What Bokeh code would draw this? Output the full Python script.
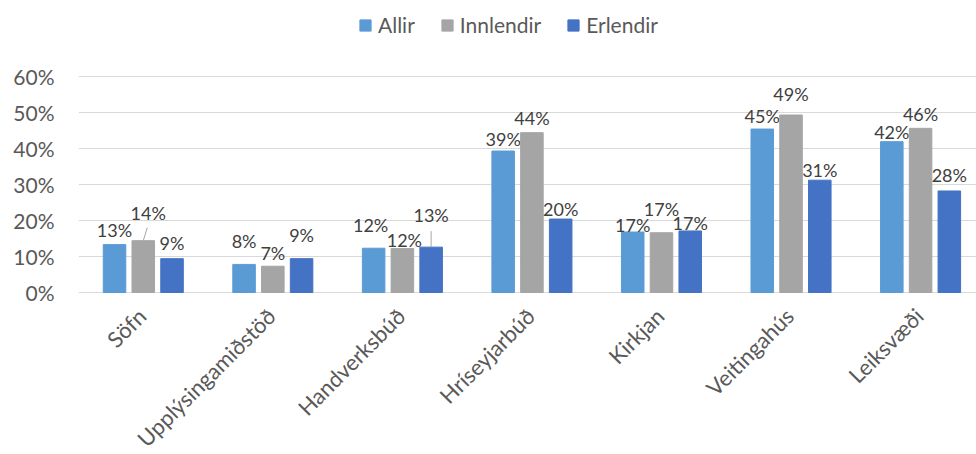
import math
from bokeh.plotting import figure
from bokeh.models import (ColumnDataSource, Range1d, FixedTicker, NumeralTickFormatter,
                          Legend, LegendItem)
from bokeh.core.properties import value
from bokeh.embed import file_html
from bokeh.resources import INLINE

# ---- data ----
categories = ["Söfn", "Upplýsingamiðstöð", "Handverksbúð", "Hríseyjarbúð",
              "Kirkjan", "Veitingahús", "Leiksvæði"]
allir = [0.133, 0.078, 0.123, 0.393, 0.168, 0.454, 0.419]
innlendir = [0.144, 0.073, 0.122, 0.444, 0.166, 0.493, 0.456]
erlendir = [0.094, 0.094, 0.126, 0.204, 0.171, 0.312, 0.282]
series_names = ["Allir", "Innlendir", "Erlendir"]
y_ticks = [0, 0.1, 0.2, 0.3, 0.4, 0.5, 0.6]

# ---- styles ----
colors = ["#5B9BD5", "#A5A5A5", "#4472C4"]
offsets = [-0.222, 0.0, 0.222]
bar_w = 0.174
FONT = "Lato"
BASE_LIFT = 6
# label lift above bar top, px (auto-placement of the original)
lifts = [
    [9, 17, 17, 6, 1, 7, 4],
    [22, 7, 3, 9, 18, 15, 8],
    [10, 18, 26, 4, 2, 4, 10],
]
label_dx = [
    [0, 0, -3, 0, 0, 0, 0],
    [5, 0, 2, 0, 0, 0, 0],
    [0, 0, 0, 0, 0, 0, 0],
]
# leader lines (series index, category index, dx px, length px)
leaders = [(1, 0, 4, 13), (2, 2, 0, 16)]
W, H = 976, 454
LEFT = 78
PLOT_TOP_PX = 76          # where 60% sits, from canvas top
ZERO_PX = 292             # where 0% sits, from canvas top
PX_X = 129.55             # px per category unit
PX_Y = (ZERO_PX - PLOT_TOP_PX) / 0.6  # px per y unit

p = figure(width=W, height=H, output_backend="svg", toolbar_location=None,
           x_range=Range1d(-0.5, -0.5 + (W - LEFT) / PX_X),
           y_range=Range1d(-(H - ZERO_PX) / PX_Y, 0.6 + PLOT_TOP_PX / PX_Y),
           x_axis_location=None,
           min_border_left=LEFT, min_border_right=0, min_border_top=0,
           min_border_bottom=0)
p.outline_line_color = None
p.background_fill_color = "white"
p.border_fill_color = "white"

for g in p.xgrid:
    g.grid_line_color = None
p.ygrid.grid_line_color = "#D9D9D9"
p.ygrid.grid_line_width = 1
p.ygrid.ticker = FixedTicker(ticks=y_ticks)

renderers = []
for si, (name, vals) in enumerate(zip(series_names, [allir, innlendir, erlendir])):
    xs = [i + offsets[si] for i in range(len(categories))]
    src = ColumnDataSource(dict(
        x=xs, top=vals,
        lx=[x + label_dx[si][i] / PX_X for i, x in enumerate(xs)],
        ly=[v + (lifts[si][i] + BASE_LIFT) / PX_Y for i, v in enumerate(vals)],
        label=[f"{v:.0%}" for v in vals]))
    r = p.vbar(x="x", top="top", bottom=0, width=bar_w, source=src, color=colors[si],
               line_color=colors[si])
    renderers.append(r)
    p.text(x="lx", y="ly", text="label", source=src, text_align="center",
           text_baseline="alphabetic", text_font=value(FONT),
           text_font_size="18px", text_color="#404040")

all_vals = [allir, innlendir, erlendir]
for si, ci, dx, ln in leaders:
    x0 = ci + offsets[si]
    y0 = all_vals[si][ci]
    p.segment(x0=[x0], y0=[y0], x1=[x0 + dx / PX_X], y1=[y0 + ln / PX_Y],
              line_color="#A6A6A6", line_width=1)

# category labels (rotated 45 degrees, ending under each group)
cat_src = ColumnDataSource(dict(x=list(range(len(categories))),
                                y=[0] * len(categories), text=categories))
p.text(x="x", y="y", text="text", source=cat_src, angle=math.pi / 4,
       text_align="right", text_baseline="top", x_offset=-11, y_offset=10,
       text_font=value(FONT), text_font_size="22px", text_color="#595959")

# y axis
p.yaxis.ticker = FixedTicker(ticks=y_ticks)
p.yaxis.formatter = NumeralTickFormatter(format="0%")
p.yaxis.axis_line_color = None
p.yaxis.major_tick_line_color = None
p.yaxis.minor_tick_line_color = None
p.yaxis.major_label_standoff = 18
p.yaxis.major_label_text_font = FONT
p.yaxis.major_label_text_font_size = "21px"
p.yaxis.major_label_text_color = "#595959"

legend = Legend(items=[LegendItem(label=n, renderers=[r]) for n, r in zip(series_names, renderers)],
                orientation="horizontal", location=(280, H - 37),
                glyph_width=14, glyph_height=14, label_standoff=6, spacing=25,
                padding=0, margin=0, border_line_color=None,
                background_fill_alpha=0,
                label_text_font=FONT, label_text_font_size="21px",
                label_text_color="#595959")
p.add_layout(legend, "center")

open("out.html", "w").write(file_html(p, INLINE))
